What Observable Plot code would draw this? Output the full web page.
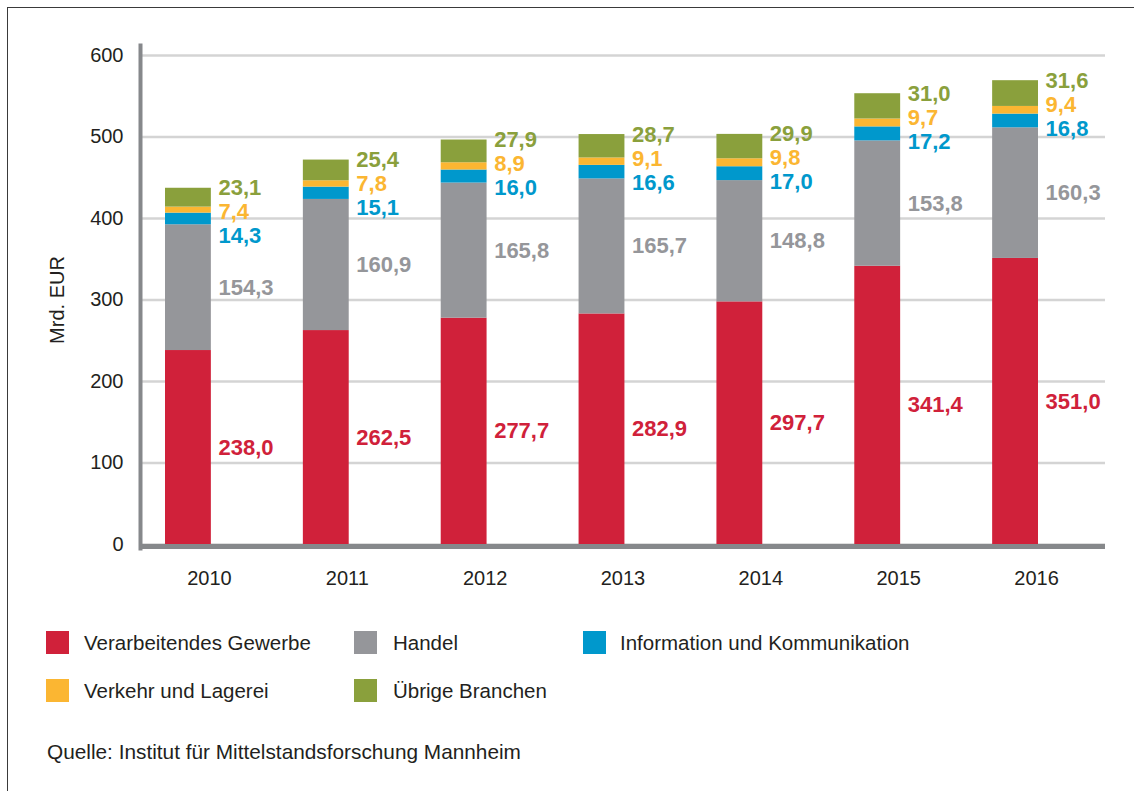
<!DOCTYPE html>
<html>
<head>
<meta charset="utf-8">
<script src="https://cdn.jsdelivr.net/npm/d3@7"></script>
<script src="https://cdn.jsdelivr.net/npm/@observablehq/plot@0.6"></script>
<style>
  html, body { margin: 0; padding: 0; background: #fff; }
  #wrap { position: relative; width: 1134px; height: 791px; overflow: hidden;
          font-family: "Liberation Sans", Arial, sans-serif; color: #231f20; }
  #border { position: absolute; left: 7px; top: 7px; right: -5px; bottom: -5px;
            border-top: 1.5px solid #3a3a3a; border-left: 1.5px solid #3a3a3a; }
  #chart { position: absolute; left: 0; top: 0; }
  .lg { position: absolute; font-size: 20.5px; line-height: 24px; white-space: nowrap; }
  .sw { position: absolute; width: 23px; height: 23px; }
  #caption { position: absolute; left: 47px; top: 740px; font-size: 20.8px; line-height: 24px; }
</style>
</head>
<body>
<div id="wrap">
  <div id="border"></div>
  <div id="chart"></div>
  <div id="legend"></div>
  <div id="caption">Quelle: Institut für Mittelstandsforschung Mannheim</div>
</div>
<script>
const years = ["2010", "2011", "2012", "2013", "2014", "2015", "2016"];
const seriesNames = ["Verarbeitendes Gewerbe", "Handel", "Information und Kommunikation", "Verkehr und Lagerei", "Übrige Branchen"];
const seriesColors = ["#d0213a", "#95969a", "#0098cc", "#fbb632", "#8aa03c"];
const verarbeitendesGewerbe = [238.0, 262.5, 277.7, 282.9, 297.7, 341.4, 351.0];
const handel = [154.3, 160.9, 165.8, 165.7, 148.8, 153.8, 160.3];
const infoKomm = [14.3, 15.1, 16.0, 16.6, 17.0, 17.2, 16.8];
const verkehr = [7.4, 7.8, 8.9, 9.1, 9.8, 9.7, 9.4];
const uebrige = [23.1, 25.4, 27.9, 28.7, 29.9, 31.0, 31.6];
const yTicks = [0, 100, 200, 300, 400, 500, 600];

const seriesValues = [verarbeitendesGewerbe, handel, infoKomm, verkehr, uebrige];
const fmt = v => v.toFixed(1).replace(".", ",");

// build stacked rows
const rows = [];
years.forEach((year, i) => {
  let acc = 0;
  seriesNames.forEach((s, k) => {
    const v = seriesValues[k][i];
    rows.push({year, series: s, value: v, y1: acc, y2: acc + v, mid: acc + v / 2, total: 0});
    acc += v;
  });
  rows.filter(r => r.year === year).forEach(r => r.total = acc);
});

const lblFont = {fontSize: 22, fontWeight: "bold", textAnchor: "start", dx: 9};

const chart = Plot.plot({
  width: 1134,
  height: 610,
  marginTop: 55,
  marginBottom: 66,
  marginLeft: 140,
  marginRight: 29,
  style: {fontFamily: "'Liberation Sans', Arial, sans-serif", fontSize: "20px", color: "#231f20", background: "transparent"},
  x: {type: "band", domain: years, padding: 0, round: false},
  y: {domain: [0, 600]},
  color: {domain: seriesNames, range: seriesColors},
  marks: [
    Plot.gridY(yTicks, {stroke: "#d4d4d4", strokeWidth: 2.5, strokeOpacity: 1}),
    Plot.barY(rows, {x: "year", y1: "y1", y2: "y2", fill: "series", insetLeft: 25, insetRight: 67}),
    Plot.ruleY([0], {stroke: "#86888b", strokeWidth: 5, dy: 2}),
    Plot.frame({anchor: "left", stroke: "#86888b", strokeWidth: 4, insetTop: -10, insetBottom: -4}),
    Plot.axisY(yTicks, {tickSize: 0, tickPadding: 17, fontSize: 20, fill: "#231f20", label: null}),
    Plot.axisX({tickSize: 0, tickPadding: 26, fontSize: 20, fill: "#231f20", label: null}),
    Plot.text(["Mrd. EUR"], {frameAnchor: "left", textAnchor: "middle", rotate: -90, dx: -83, fontSize: 20, fill: "#231f20"}),
    // red and gray labels at segment midpoints
    Plot.text(rows.filter(r => r.series === seriesNames[0] || r.series === seriesNames[1]),
      {x: "year", y: "mid", text: d => fmt(d.value), fill: "series", ...lblFont}),
    // top three labels stacked near the bar top
    Plot.text(rows.filter(r => r.series === seriesNames[4]),
      {x: "year", y: "total", text: d => fmt(d.value), fill: "series", dy: 0, ...lblFont}),
    Plot.text(rows.filter(r => r.series === seriesNames[3]),
      {x: "year", y: "total", text: d => fmt(d.value), fill: "series", dy: 24, ...lblFont}),
    Plot.text(rows.filter(r => r.series === seriesNames[2]),
      {x: "year", y: "total", text: d => fmt(d.value), fill: "series", dy: 48, ...lblFont})
  ]
});
document.getElementById("chart").appendChild(chart);

// legend (HTML)
const legendPos = [
  {sx: 46, tx: 84, y: 631},
  {sx: 354, tx: 393, y: 631},
  {sx: 583, tx: 620, y: 631},
  {sx: 46, tx: 84, y: 679},
  {sx: 354, tx: 393, y: 679}
];
const legend = document.getElementById("legend");
seriesNames.forEach((s, k) => {
  const p = legendPos[k];
  const sw = document.createElement("div");
  sw.className = "sw";
  sw.style.left = p.sx + "px"; sw.style.top = p.y + "px"; sw.style.background = seriesColors[k];
  legend.appendChild(sw);
  const t = document.createElement("div");
  t.className = "lg";
  t.style.left = p.tx + "px"; t.style.top = (p.y - 0.5) + "px";
  t.textContent = s;
  legend.appendChild(t);
});
</script>
</body>
</html>
